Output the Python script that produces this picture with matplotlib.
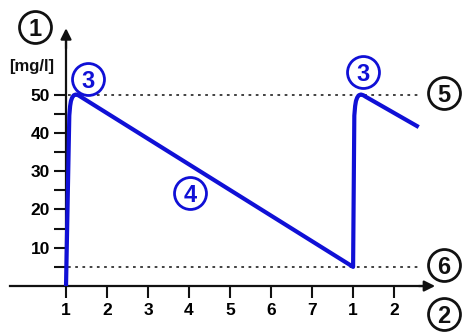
import matplotlib
matplotlib.use("Agg")
import matplotlib.pyplot as plt

plt.rcParams['font.family'] = ['Liberation Sans', 'DejaVu Sans']
plt.rcParams['font.weight'] = 'bold'

# ---- data ----
curve_x = [0, 0.08, 0.1, 0.12, 0.15, 0.19, 0.24, 0.3, 0.36,
           7.0, 7.03, 7.05, 7.07, 7.1, 7.14, 7.19, 7.25, 7.31, 8.6]
curve_y = [0, 44.5, 47.0, 48.3, 49.2, 49.8, 50.0, 49.8, 49.4,
           5, 44.5, 47.0, 48.3, 49.2, 49.8, 50.0, 49.8, 49.4, 41.5]
x_ticks = [0, 1, 2, 3, 4, 5, 6, 7, 8]
x_tick_labels = ['1', '2', '3', '4', '5', '6', '7', '1', '2']
y_major = [10, 20, 30, 40, 50]
y_minor = [5, 15, 25, 35, 45]
upper_limit = 50
lower_limit = 5
unit_label = '[mg/l]'

BLUE = '#1010d6'
BLACK = '#111111'

fig = plt.figure(figsize=(4.63, 3.32), dpi=100)
ax = fig.add_axes([0, 0, 1, 1])
ax.set_xlim(-1.61, 9.68)
ax.set_ylim(-12.0, 74.67)

for s in ['top', 'right']:
    ax.spines[s].set_visible(False)
ax.spines['left'].set_position(('data', 0))
ax.spines['bottom'].set_position(('data', 0))
ax.spines['left'].set_bounds(0, 64)
ax.spines['bottom'].set_bounds(-1.37, 8.7)
for s in ['left', 'bottom']:
    ax.spines[s].set_linewidth(1.6)
    ax.spines[s].set_color(BLACK)
    ax.spines[s].set_zorder(1)

ax.annotate('', xy=(0, 67.3), xytext=(0, 62), arrowprops=dict(
    arrowstyle='-|>', mutation_scale=16, lw=1.6, color=BLACK, shrinkA=0, shrinkB=0))
ax.annotate('', xy=(9.0, 0), xytext=(8.6, 0), arrowprops=dict(
    arrowstyle='-|>', mutation_scale=16, lw=1.6, color=BLACK, shrinkA=0, shrinkB=0))

ax.set_xticks(x_ticks)
ax.set_xticklabels(x_tick_labels)
ax.set_yticks(y_major)
ax.set_yticks(y_minor, minor=True)
ax.tick_params(axis='both', which='both', direction='out', length=8.5, width=1.5, color=BLACK)
ax.tick_params(axis='x', pad=4, labelsize=12.5)
ax.tick_params(axis='y', pad=3, labelsize=12.5)
for lab in ax.get_xticklabels() + ax.get_yticklabels():
    lab.set_fontweight('bold')

ax.plot([0.05, 8.63], [upper_limit, upper_limit], linestyle=(0, (1.5, 2.5)), lw=1.3, color='#333333', zorder=2)
ax.plot([0.05, 8.63], [lower_limit, lower_limit], linestyle=(0, (1.5, 2.5)), lw=1.3, color='#333333', zorder=2)

ax.plot(curve_x, curve_y, color=BLUE, lw=3.0, solid_joinstyle='round', solid_capstyle='butt', zorder=3)

ax.text(-0.83, 57.2, unit_label, ha='center', va='center', fontsize=12, fontweight='bold', color=BLACK)

def circled(x, y, s, color):
    ax.plot([x], [y], marker='o', ms=23, mfc='white', mec=color, mew=2.0, zorder=4)
    ax.text(x, y, s, ha='center', va='center_baseline', fontsize=17, fontweight='bold', color=color, zorder=5)

circled(-0.756, 67.6, '1', BLACK)
circled(9.22, -7.3, '2', BLACK)
circled(0.54, 54.0, '3', BLUE)
circled(7.24, 55.9, '3', BLUE)
circled(3.02, 24.3, '4', BLUE)
circled(9.22, 50.4, '5', BLACK)
circled(9.22, 5.5, '6', BLACK)

fig.savefig('out.png', dpi=100)
